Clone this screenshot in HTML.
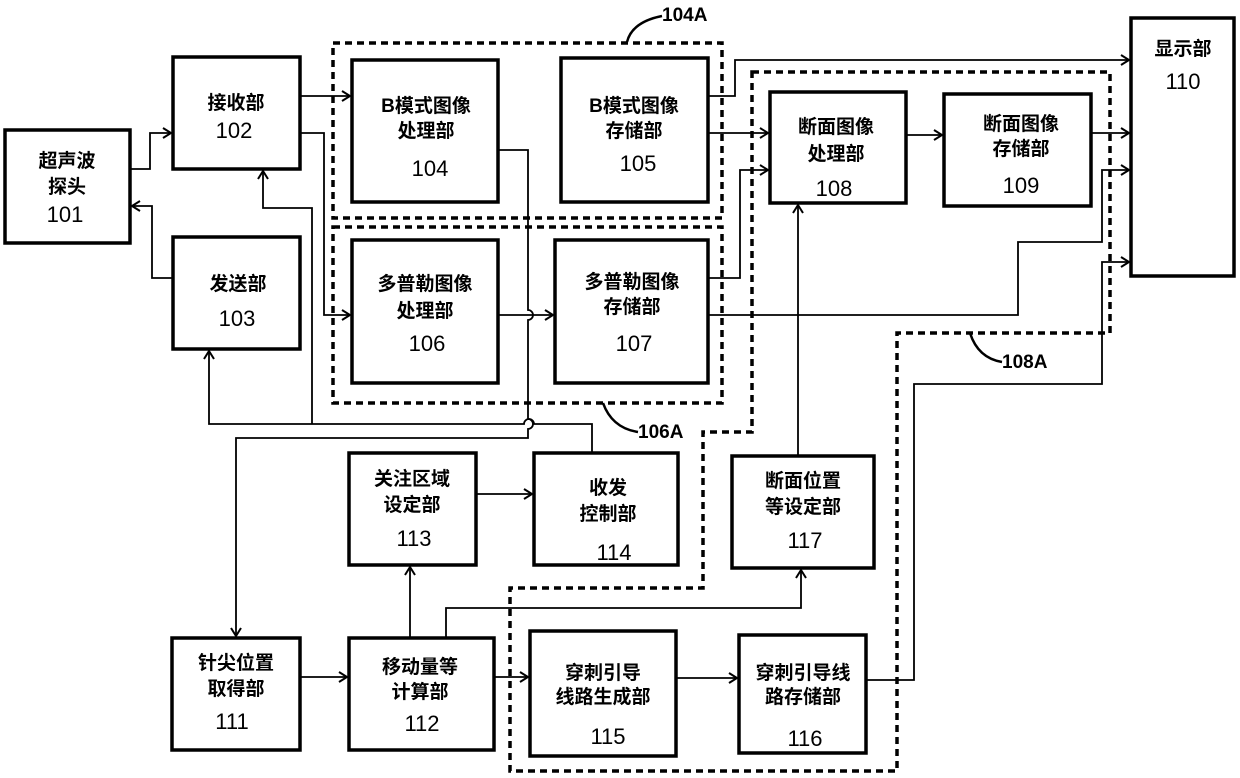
<!DOCTYPE html>
<html><head><meta charset="utf-8"><style>
html,body{margin:0;padding:0;background:#fff}
svg{display:block}
text{font-family:"Liberation Sans","Noto Sans CJK SC",sans-serif;font-size:19px;font-weight:bold;fill:#000;text-anchor:middle;dominant-baseline:middle}
.n{font-size:22px;font-weight:normal}
.lb{font-weight:bold;font-size:19px;text-anchor:start}
</style></head><body>
<svg width="1240" height="778" viewBox="0 0 1240 778" xmlns="http://www.w3.org/2000/svg">
<defs>
<marker id="a" markerWidth="12" markerHeight="12" refX="10" refY="6" orient="auto" markerUnits="userSpaceOnUse">
<path d="M2,1 L10,6 L2,11" fill="none" stroke="#000" stroke-width="2"/>
</marker>
</defs>
<g fill="none" stroke="#000" stroke-width="3.5" stroke-dasharray="7,5">
<rect x="333" y="43" width="389" height="175"/>
<rect x="333" y="227" width="389" height="176"/>
<path d="M752,72 L1110,72 L1110,333 L897,333 L897,771 L510,771 L510,588 L703,588 L703,432 L752,432 Z"/>
</g>
<g fill="#fff" stroke="#000" stroke-width="3.5">
<rect x="5" y="130" width="125" height="113"/>
<rect x="173" y="57" width="127" height="112"/>
<rect x="173" y="237" width="127" height="112"/>
<rect x="352" y="60" width="146" height="142"/>
<rect x="561" y="58" width="147" height="144"/>
<rect x="352" y="240" width="146" height="143"/>
<rect x="555" y="240" width="153" height="143"/>
<rect x="770" y="92" width="136" height="111"/>
<rect x="944" y="94" width="147" height="112"/>
<rect x="1131" y="18" width="103" height="258"/>
<rect x="349" y="453" width="127" height="112"/>
<rect x="534" y="453" width="144" height="112"/>
<rect x="732" y="456" width="142" height="112"/>
<rect x="172" y="638" width="128" height="112"/>
<rect x="349" y="638" width="145" height="112"/>
<rect x="530" y="631" width="146" height="125"/>
<rect x="739" y="635" width="127" height="118"/>
</g>
<g fill="none" stroke="#000" stroke-width="1.8">
<path d="M130,169 H150 V133 H171" marker-end="url(#a)"/>
<path d="M173,278 H152 V206 H132" marker-end="url(#a)"/>
<path d="M300,96 H350" marker-end="url(#a)"/>
<path d="M300,133 H324 V315 H350" marker-end="url(#a)"/>
<path d="M592,453 V424 H534 A5,5 0 0 0 524,424 H209 V351" marker-end="url(#a)"/>
<path d="M312,424 V208 H263 V171" marker-end="url(#a)"/>
<path d="M498,150 H528 V310 A5,5 0 0 1 528,320 V419 A5,5 0 0 1 528,429 V438 H236 V636" marker-end="url(#a)"/>
<path d="M498,315 H553" marker-end="url(#a)"/>
<path d="M708,96 H735 V60 H1129" marker-end="url(#a)"/>
<path d="M708,133 H768" marker-end="url(#a)"/>
<path d="M708,278 H740 V170 H768" marker-end="url(#a)"/>
<path d="M906,135 H942" marker-end="url(#a)"/>
<path d="M1091,133 H1129" marker-end="url(#a)"/>
<path d="M708,315 H1018 V242 H1102 V170 H1129" marker-end="url(#a)"/>
<path d="M866,680 H914 V384 H1102 V262 H1129" marker-end="url(#a)"/>
<path d="M798,456 V205" marker-end="url(#a)"/>
<path d="M476,494 H532" marker-end="url(#a)"/>
<path d="M300,677 H347" marker-end="url(#a)"/>
<path d="M494,677 H528" marker-end="url(#a)"/>
<path d="M676,678 H737" marker-end="url(#a)"/>
<path d="M410,638 V567" marker-end="url(#a)"/>
<path d="M446,638 V608 H801 V570" marker-end="url(#a)"/>
</g>
<g fill="none" stroke="#000" stroke-width="2.5">
<path d="M627,42 Q632,22 662,16"/>
<path d="M603,403 Q612,428 638,432"/>
<path d="M970,333 Q978,358 1002,362"/>
</g>
<text class="lb" x="662" y="16">104A</text>
<text class="lb" x="638" y="433">106A</text>
<text class="lb" x="1002" y="363">108A</text>
<text x="67" y="162">超声波</text><text x="67" y="188">探头</text><text class="n" x="65" y="216">101</text>
<text x="236" y="104">接收部</text><text class="n" x="234" y="132">102</text>
<text x="238" y="285">发送部</text><text class="n" x="237" y="320">103</text>
<text x="426" y="107">B模式图像</text><text x="426" y="132">处理部</text><text class="n" x="430" y="170">104</text>
<text x="634" y="107">B模式图像</text><text x="634" y="132">存储部</text><text class="n" x="638" y="165">105</text>
<text x="425" y="285">多普勒图像</text><text x="425" y="312">处理部</text><text class="n" x="427" y="345">106</text>
<text x="632" y="283">多普勒图像</text><text x="632" y="308">存储部</text><text class="n" x="634" y="345">107</text>
<text x="836" y="128">断面图像</text><text x="836" y="155">处理部</text><text class="n" x="834" y="190">108</text>
<text x="1021" y="125">断面图像</text><text x="1021" y="150">存储部</text><text class="n" x="1021" y="187">109</text>
<text x="1183" y="50">显示部</text><text class="n" x="1183" y="83">110</text>
<text x="412" y="480">关注区域</text><text x="412" y="506">设定部</text><text class="n" x="414" y="540">113</text>
<text x="608" y="489">收发</text><text x="608" y="515">控制部</text><text class="n" x="614" y="554">114</text>
<text x="803" y="482">断面位置</text><text x="803" y="508">等设定部</text><text class="n" x="805" y="542">117</text>
<text x="236" y="664">针尖位置</text><text x="236" y="690">取得部</text><text class="n" x="232" y="723">111</text>
<text x="420" y="668">移动量等</text><text x="420" y="693">计算部</text><text class="n" x="422" y="725">112</text>
<text x="603" y="674">穿刺引导</text><text x="603" y="698">线路生成部</text><text class="n" x="608" y="738">115</text>
<text x="803" y="674">穿刺引导线</text><text x="803" y="698">路存储部</text><text class="n" x="805" y="740">116</text>
</svg>
</body></html>
